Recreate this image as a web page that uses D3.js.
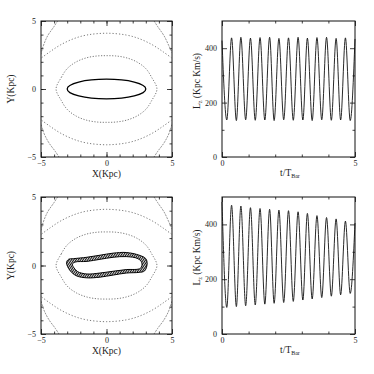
<!DOCTYPE html>
<html><head><meta charset="utf-8">
<script src="https://cdn.jsdelivr.net/npm/d3@7"></script>
<style>body{margin:0;background:#fff}</style>
</head><body><svg id="chart" width="374" height="374"></svg>
<script>
// times of the maxima / minima of Lz (in units of the bar period)
const tExt = [0, 0.18, 0.36, 0.54, 0.71, 0.89, 1.07, 1.25, 1.43, 1.61, 1.79, 1.96, 2.14, 2.32,
              2.5, 2.68, 2.86, 3.04, 3.21, 3.39, 3.57, 3.75, 3.93, 4.11, 4.29, 4.46, 4.64, 4.82, 5.0]
// Lz at those times, top run (regular orbit) and bottom run (drifting orbit)
const lzTop = [428,136, 438,134, 440,137, 437,135, 439,136, 440,134, 436,137, 438,135,
               440,136, 437,134, 439,137, 440,135, 436,136, 438,134, 434]
const lzBot = [482,97, 470,100, 467,103, 461,106, 458,109, 455,112, 452,115, 450,119,
               446,124, 440,128, 432,133, 425,138, 420,143, 412,148, 405]

// zero velocity contours in the x-y plane (kpc)
const lens = [[-3.85,0],[-3.45,0.85],[-3.0,1.5],[-2.3,2.0],[-1.5,2.3],[-0.7,2.43],[0,2.45],[0.7,2.43],
              [1.5,2.3],[2.3,2.0],[3.0,1.5],[3.45,0.85],[3.85,0],[3.45,-0.85],[3.0,-1.5],[2.3,-2.0],
              [1.5,-2.3],[0.7,-2.43],[0,-2.45],[-0.7,-2.43],[-1.5,-2.3],[-2.3,-2.0],[-3.0,-1.5],[-3.45,-0.85]]
const arcUp = [[-4.95,2.3],[-4.3,2.75],[-3.5,3.25],[-2.5,3.7],[-1.5,3.97],[0,4.1],[1.5,3.97],
               [2.5,3.7],[3.5,3.25],[4.3,2.75],[4.95,2.3]]
const arcDown = [[-4.95,-2.3],[-4.3,-2.75],[-3.5,-3.25],[-2.5,-3.7],[-1.5,-3.97],[0,-4.1],[1.5,-3.97],
                 [2.5,-3.7],[3.5,-3.25],[4.3,-2.75],[4.95,-2.3]]
const corners = [
    [[-3.6,5.2],[-4.0,4.6],[-4.5,3.9],[-4.85,3.1],[-5.05,2.4]],
    [[3.5,5.2],[3.9,4.6],[4.4,3.9],[4.8,3.1],[5.05,2.6]],
    [[-5.05,-2.4],[-4.8,-3.2],[-4.4,-3.95],[-3.9,-4.6],[-3.5,-5.2]],
    [[5.05,-2.4],[4.8,-3.2],[4.4,-3.95],[3.9,-4.6],[3.5,-5.2]]
]
// periodic orbit (top) : ellipse semi axes
const orbitAxes = [3.0, 0.72]
// perturbed orbit (bottom) : outer and inner edge of the band it fills
const bandOuter = [[-3.05,0.2],[-2.9,0.45],[-2.5,0.5],[-1.5,0.6],[-0.5,0.75],[0.5,0.9],[1.5,0.95],
                   [2.5,0.75],[3.0,0.5],[3.1,0.1],[2.9,-0.4],[2.5,-0.5],[1.5,-0.55],[0.5,-0.7],
                   [-0.5,-0.85],[-1.5,-0.9],[-2.3,-0.75],[-2.8,-0.35]]
const bandInner = [[-2.6,0.1],[-2.4,0.25],[-1.5,0.3],[-0.5,0.45],[0.5,0.6],[1.5,0.65],[2.4,0.5],
                   [2.7,0.2],[2.6,-0.2],[1.5,-0.3],[0.5,-0.42],[-0.5,-0.55],[-1.5,-0.62],
                   [-2.2,-0.45],[-2.5,-0.15]]

const svg = d3.select('#chart')
const fontTick = 'Liberation Serif, DejaVu Serif, serif'

// hatch used for the filled orbit band
svg.append('defs').append('pattern')
   .attr('id', 'hatch').attr('width', 1.9).attr('height', 1.9)
   .attr('patternUnits', 'userSpaceOnUse').attr('patternTransform', 'rotate(35)')
   .append('rect').attr('width', 1.1).attr('height', 1.9).attr('fill', '#111')

function frame_axes(g, x, y, xMajor, xMinor, yMajor, yMinor, xfmt, yfmt) {
    const [x0, x1] = x.range()
    const [y1, y0] = y.range()
    const sides = [
        [d3.axisBottom, x, `translate(0,${y1})`, xMajor, xMinor, xfmt, 3],
        [d3.axisTop, x, `translate(0,${y0})`, xMajor, xMinor, null, 3],
        [d3.axisLeft, y, `translate(${x0},0)`, yMajor, yMinor, yfmt, 5],
        [d3.axisRight, y, `translate(${x1},0)`, yMajor, yMinor, null, 5],
    ]
    for (const [ax, sc, tr, maj, mn, fmt, pad] of sides) {
        g.append('g').attr('transform', tr)
         .call(ax(sc).tickValues(mn).tickSize(-2.5).tickFormat(''))
         .call(a => a.select('.domain').remove())
        g.append('g').attr('transform', tr)
         .call(ax(sc).tickValues(maj).tickSize(-5).tickPadding(pad).tickFormat(fmt ? fmt : ''))
         .call(a => a.select('.domain').remove())
         .attr('font-family', fontTick).attr('font-size', 8)
    }
    g.selectAll('.tick line').attr('stroke', '#111').attr('stroke-width', 0.8)
    g.selectAll('.tick text').attr('fill', '#222')
    g.append('rect').attr('x', x0).attr('y', y0).attr('width', x1 - x0).attr('height', y1 - y0)
     .attr('fill', 'none').attr('stroke', '#111').attr('stroke-width', 1)
}

function xy_panel(top, bottom, id, drawOrbit) {
    const x = d3.scaleLinear([-5, 5], [41, 172])
    const y = d3.scaleLinear([-5, 5], [bottom, top])
    const g = svg.append('g')
    g.append('clipPath').attr('id', id).append('rect')
     .attr('x', 41).attr('y', top).attr('width', 131).attr('height', bottom - top)
    const c = g.append('g').attr('clip-path', `url(#${id})`)
    const line = d3.line(d => x(d[0]), d => y(d[1])).curve(d3.curveCatmullRom)
    const closed = d3.line(d => x(d[0]), d => y(d[1])).curve(d3.curveCatmullRomClosed)
    c.append('path').attr('d', closed(lens))
     .attr('fill', 'none').attr('stroke', '#555').attr('stroke-width', 0.8).attr('stroke-dasharray', '1.2,1.6')
    for (const arc of [arcUp, arcDown]) {
        c.append('path').attr('d', line(arc))
         .attr('fill', 'none').attr('stroke', '#555').attr('stroke-width', 0.8).attr('stroke-dasharray', '1.2,2')
    }
    for (const arc of corners) {
        c.append('path').attr('d', line(arc))
         .attr('fill', 'none').attr('stroke', '#666').attr('stroke-width', 0.7).attr('stroke-dasharray', '2,1')
    }
    drawOrbit(c, x, y, closed)
    frame_axes(g, x, y, [-5, 0, 5], d3.range(-4, 5), [-5, 0, 5], d3.range(-4, 5),
               d => d < 0 ? '\u2212' + Math.abs(d) : d, d => d < 0 ? '\u2212' + Math.abs(d) : d)
    g.append('text').attr('x', 106.5).attr('y', bottom + 20).attr('text-anchor', 'middle')
     .attr('font-family', fontTick).attr('font-size', 9.5).attr('fill', '#222').text('X(Kpc)')
    g.append('text').attr('transform', `translate(14,${(top + bottom) / 2}) rotate(-90)`)
     .attr('text-anchor', 'middle')
     .attr('font-family', fontTick).attr('font-size', 9.5).attr('fill', '#222').text('Y(Kpc)')
}

function lz_panel(top, bottom, values) {
    const x = d3.scaleLinear([0, 5], [222, 355])
    const y = d3.scaleLinear([0, 500], [bottom, top])
    const g = svg.append('g')
    const line = d3.line((d, i) => x(tExt[i]), d => y(d)).curve(d3.curveMonotoneX)
    g.append('path').attr('d', line(values))
     .attr('fill', 'none').attr('stroke', '#111').attr('stroke-width', 0.9)
    frame_axes(g, x, y, [0, 5], [1, 2, 3, 4], [0, 200, 400], [100, 300], d => d, d => d)
    const xt = g.append('text').attr('x', 290).attr('y', bottom + 19).attr('text-anchor', 'middle')
     .attr('font-family', fontTick).attr('font-size', 9.5).attr('fill', '#222')
    xt.append('tspan').text('t/T')
    xt.append('tspan').attr('font-size', 6).attr('dy', 2).text('Bar')
    const yt = g.append('text').attr('transform', `translate(200,${(top + bottom) / 2 - 8}) rotate(-90)`)
     .attr('text-anchor', 'middle')
     .attr('font-family', fontTick).attr('font-size', 9.5).attr('fill', '#222')
    yt.append('tspan').text('L')
    yt.append('tspan').attr('font-size', 6).attr('dy', 2).text('z')
    yt.append('tspan').attr('dy', -2).text(' (Kpc Km/s)')
}

xy_panel(21, 157, 'clipA', (c, x, y) => {
    c.append('ellipse').attr('cx', x(0)).attr('cy', y(0))
     .attr('rx', x(orbitAxes[0]) - x(0)).attr('ry', y(0) - y(orbitAxes[1]))
     .attr('fill', 'none').attr('stroke', '#000').attr('stroke-width', 1.3)
})
xy_panel(197, 334, 'clipB', (c, x, y, closed) => {
    c.append('path').attr('d', closed(bandOuter) + closed(bandInner))
     .attr('fill', 'url(#hatch)').attr('fill-rule', 'evenodd')
     .attr('stroke', '#000').attr('stroke-width', 1)
})
lz_panel(21, 157, lzTop)
lz_panel(197, 334, lzBot)
</script></body></html>
